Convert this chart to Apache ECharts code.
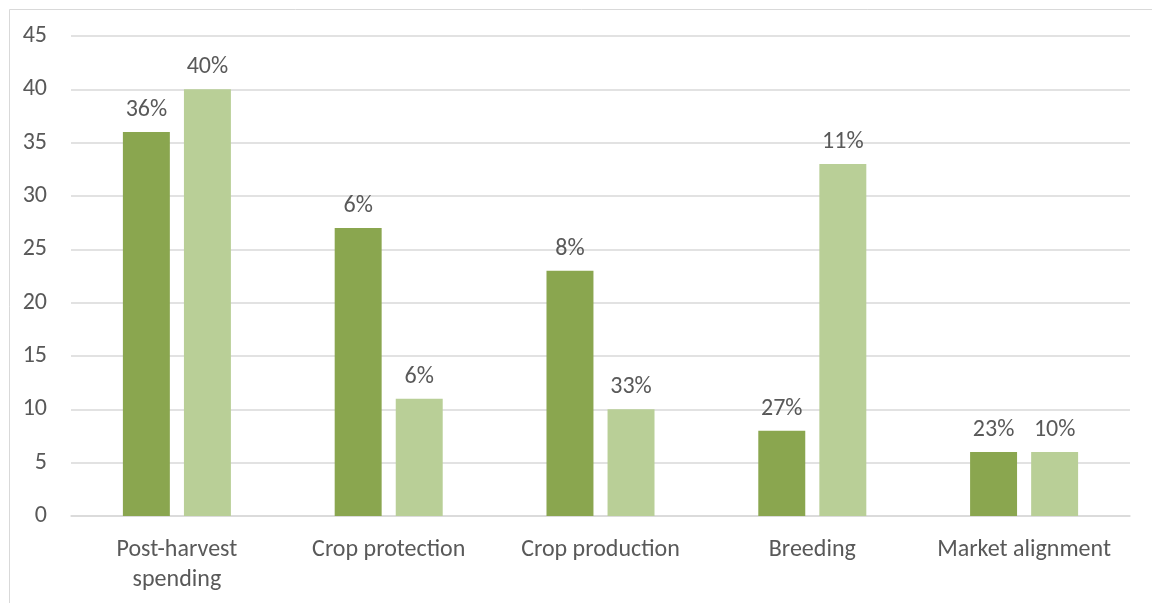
<!DOCTYPE html>
<html>
<head>
<meta charset="utf-8">
<script src="https://cdn.jsdelivr.net/npm/echarts@6/dist/echarts.min.js"></script>
<style>
  html, body { margin: 0; padding: 0; background: #ffffff; }
  #chart { width: 1152px; height: 603px; }
</style>
</head>
<body>
<div id="chart"></div>
<script>
// Categories along the x axis
const categories = ['Post-harvest\nspending', 'Crop protection', 'Crop production', 'Breeding', 'Market alignment'];
// Bar heights for the two series
const seriesA = [36, 27, 23, 8, 6];
const seriesB = [40, 11, 10, 33, 6];
// Percentage labels shown above each bar
const labelsA = ['36%', '6%', '8%', '27%', '23%'];
const labelsB = ['40%', '6%', '33%', '11%', '10%'];
// Y axis range
const yMin = 0, yMax = 45, yStep = 5;

const textColor = '#595959';
const fontFamily = 'Carlito, "Open Sans", "Liberation Sans", sans-serif';
const fontSize = 24;

const chart = echarts.init(document.getElementById('chart'));

function labelFor(texts) {
  return {
    show: true,
    position: 'top',
    distance: 10,
    color: textColor,
    fontSize: fontSize,
    fontFamily: fontFamily,
    formatter: p => texts[p.dataIndex]
  };
}

chart.setOption({
  animation: false,
  backgroundColor: '#ffffff',
  graphic: [{
    type: 'rect',
    left: 7, top: 7,
    shape: { width: 1300, height: 700 },
    style: { fill: 'none', stroke: '#d9d9d9', lineWidth: 1 },
    silent: true
  }],
  grid: { left: 71, right: 22, top: 36, bottom: 87, containLabel: false },
  xAxis: {
    type: 'category',
    data: categories,
    axisLine: { show: true, lineStyle: { color: '#d9d9d9', width: 1.5 } },
    axisTick: { show: false },
    axisLabel: {
      color: textColor, fontSize: fontSize, fontFamily: fontFamily,
      margin: 19, lineHeight: 30, interval: 0
    }
  },
  yAxis: {
    type: 'value',
    min: yMin, max: yMax, interval: yStep,
    axisLine: { show: false },
    axisTick: { show: false },
    splitLine: { lineStyle: { color: '#d9d9d9', width: 1.5 } },
    axisLabel: { color: textColor, fontSize: fontSize, fontFamily: fontFamily, margin: 24 }
  },
  series: [
    {
      type: 'bar',
      data: seriesA,
      itemStyle: { color: '#8aa64f' },
      barGap: '30%',
      barCategoryGap: '49%',
      label: labelFor(labelsA)
    },
    {
      type: 'bar',
      data: seriesB,
      itemStyle: { color: '#b9cf97' },
      label: labelFor(labelsB)
    }
  ]
});
</script>
</body>
</html>
